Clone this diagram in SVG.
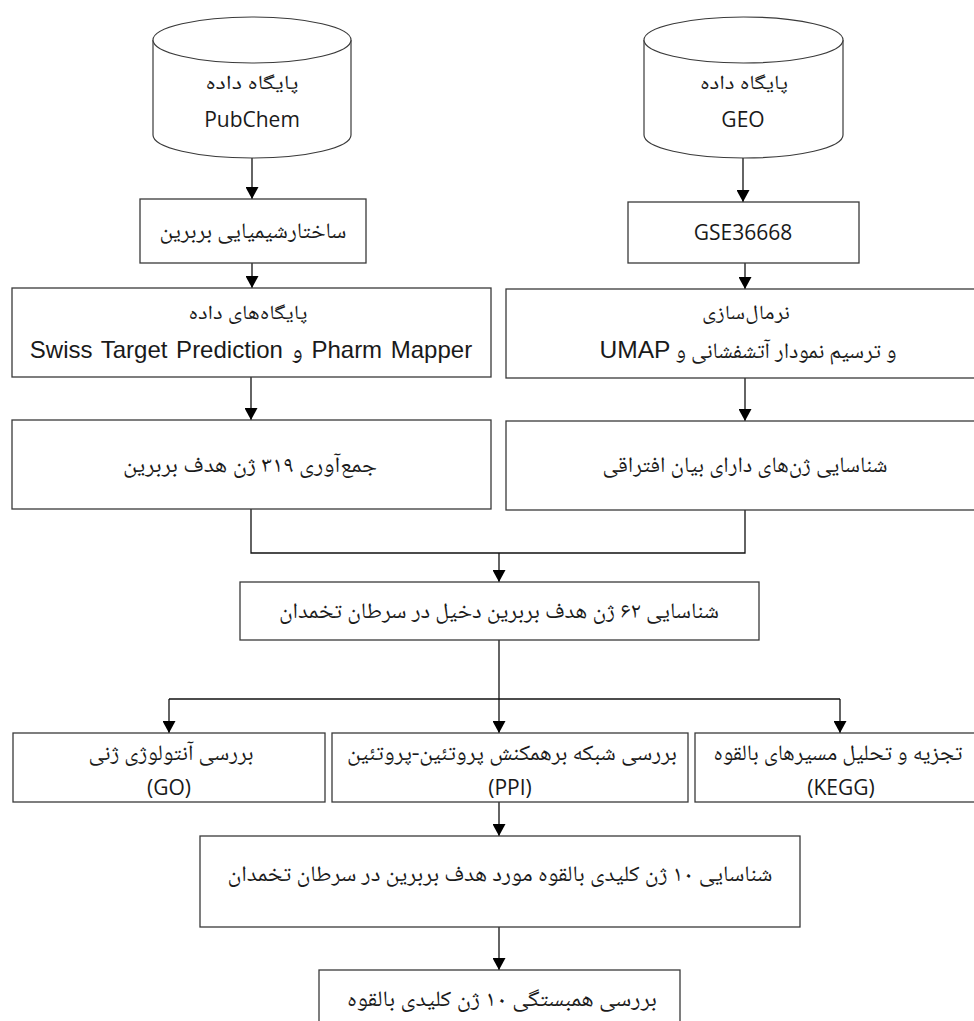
<svg xmlns="http://www.w3.org/2000/svg" width="974" height="1021" viewBox="0 0 974 1021">
<style>
.bg{fill:#fff}
.box{fill:#fff;stroke:#3a3a3a;stroke-width:1.3}
.cyl{fill:#fff;stroke:#3a3a3a;stroke-width:1.2}
.fa{font-family:'Noto Naskh Arabic','Noto Sans Arabic','DejaVu Sans',sans-serif;font-size:22px;fill:#1a1a1a;direction:rtl}
.fs{font-size:20px}
.en{font-family:'Open Sans','Noto Sans',sans-serif;font-size:21px;fill:#1a1a1a}
.ar{font-family:'Liberation Sans','Noto Naskh Arabic','DejaVu Sans',sans-serif;font-size:24px;fill:#1a1a1a;direction:rtl}
.ln{fill:none;stroke:#111;stroke-width:1.3}
</style>
<defs>
<marker id="ah" markerWidth="12" markerHeight="13" refX="12" refY="6.5" orient="auto" markerUnits="userSpaceOnUse">
<path d="M0,0 L12,6.5 L0,13 Z" fill="#000"/>
</marker>
</defs>
<rect class="bg" x="0" y="0" width="974" height="1021"/>

<g id="connectors">
<path class="ln" d="M252,158 L252,199" marker-end="url(#ah)"/>
<path class="ln" d="M743,158 L743,202" marker-end="url(#ah)"/>
<path class="ln" d="M252,263 L252,288" marker-end="url(#ah)"/>
<path class="ln" d="M745,263 L745,289" marker-end="url(#ah)"/>
<path class="ln" d="M251,377 L251,420" marker-end="url(#ah)"/>
<path class="ln" d="M745,378 L745,421" marker-end="url(#ah)"/>
<path class="ln" d="M251,509 L251,553 L745,553 L745,510"/>
<path class="ln" d="M499,553 L499,582" marker-end="url(#ah)"/>
<path class="ln" d="M499,640 L499,733" marker-end="url(#ah)"/>
<path class="ln" d="M169,699 L840,699"/>
<path class="ln" d="M169,699 L169,733" marker-end="url(#ah)"/>
<path class="ln" d="M840,699 L840,733" marker-end="url(#ah)"/>
<path class="ln" d="M499,802 L499,836" marker-end="url(#ah)"/>
<path class="ln" d="M499,927 L499,970" marker-end="url(#ah)"/>
</g>

<g id="pubchem">
<path class="cyl" d="M153,40 L153,135 A99,23 0 0 0 351,135 L351,40"/>
<ellipse class="cyl" cx="252" cy="40" rx="99" ry="23"/>
<text class="fa fs" x="252" y="89" text-anchor="middle" textLength="93" lengthAdjust="spacingAndGlyphs">پایگاه داده</text>
<text class="en" x="252" y="127" text-anchor="middle">PubChem</text>
</g>

<g id="geo">
<path class="cyl" d="M644,40 L644,135 A99.5,23 0 0 0 843,135 L843,40"/>
<ellipse class="cyl" cx="743.5" cy="40" rx="99.5" ry="23"/>
<text class="fa fs" x="744" y="89" text-anchor="middle" textLength="88" lengthAdjust="spacingAndGlyphs">پایگاه داده</text>
<text class="en" x="743" y="127" text-anchor="middle">GEO</text>
</g>

<g id="structure">
<rect class="box" x="140" y="199" width="226" height="64"/>
<text class="fa" x="253" y="238" text-anchor="middle" textLength="187" lengthAdjust="spacingAndGlyphs">ساختارشیمیایی بربرین</text>
</g>

<g id="gse">
<rect class="box" x="628" y="202" width="231" height="61"/>
<text class="en" x="743" y="240" text-anchor="middle" font-size="22">GSE36668</text>
</g>

<g id="databases">
<rect class="box" x="12" y="288" width="479" height="89"/>
<text class="fa fs" x="248" y="319" text-anchor="middle" textLength="119" lengthAdjust="spacingAndGlyphs">پایگاه‌های داده</text>
<text class="ar" x="251" y="358" text-anchor="middle" word-spacing="2">Pharm Mapper و Swiss Target Prediction</text>
</g>

<g id="normalization">
<rect class="box" x="506" y="289" width="479" height="89"/>
<text class="fa fs" x="746" y="319" text-anchor="middle" textLength="88" lengthAdjust="spacingAndGlyphs">نرمال‌سازی</text>
<text class="ar" x="748" y="358" text-anchor="middle" textLength="297" lengthAdjust="spacingAndGlyphs"><tspan class="fa" font-size="22">و ترسیم نمودار آتشفشانی و </tspan>UMAP</text>
</g>

<g id="collect">
<rect class="box" x="12" y="420" width="479" height="89"/>
<text class="fa" x="250" y="472" text-anchor="middle" textLength="254" lengthAdjust="spacingAndGlyphs">جمع‌آوری ۳۱۹ ژن هدف بربرین</text>
</g>

<g id="deg">
<rect class="box" x="506" y="421" width="479" height="89"/>
<text class="fa" x="745" y="472" text-anchor="middle" textLength="285" lengthAdjust="spacingAndGlyphs">شناسایی ژن‌های دارای بیان افتراقی</text>
</g>

<g id="common">
<rect class="box" x="240" y="582" width="519" height="58"/>
<text class="fa" x="499" y="618" text-anchor="middle" textLength="440" lengthAdjust="spacingAndGlyphs">شناسایی ۶۲ ژن هدف بربرین دخیل در سرطان تخمدان</text>
</g>

<g id="go">
<rect class="box" x="13" y="733" width="312" height="69"/>
<text class="fa" x="171" y="760" text-anchor="middle" textLength="165" lengthAdjust="spacingAndGlyphs">بررسی آنتولوژی ژنی</text>
<text class="en" x="169" y="795" text-anchor="middle" font-size="22">(GO)</text>
</g>

<g id="ppi">
<rect class="box" x="332" y="733" width="356" height="69"/>
<text class="fa" x="512" y="760" text-anchor="middle" textLength="330" lengthAdjust="spacingAndGlyphs">بررسی شبکه برهمکنش پروتئین-پروتئین</text>
<text class="en" x="510" y="795" text-anchor="middle" font-size="22">(PPI)</text>
</g>

<g id="kegg">
<rect class="box" x="695" y="733" width="290" height="69"/>
<text class="fa" x="838" y="760" text-anchor="middle" textLength="249" lengthAdjust="spacingAndGlyphs">تجزیه و تحلیل مسیرهای بالقوه</text>
<text class="en" x="841" y="795" text-anchor="middle" font-size="22">(KEGG)</text>
</g>

<g id="hubgenes">
<rect class="box" x="200" y="836" width="600" height="91"/>
<text class="fa" x="500" y="881" text-anchor="middle" textLength="545" lengthAdjust="spacingAndGlyphs">شناسایی ۱۰ ژن کلیدی بالقوه مورد هدف بربرین در سرطان تخمدان</text>
</g>

<g id="correlation">
<rect class="box" x="319" y="970" width="361" height="70"/>
<text class="fa" x="502" y="1006" text-anchor="middle" textLength="310" lengthAdjust="spacingAndGlyphs">بررسی همبستگی ۱۰ ژن کلیدی بالقوه</text>
</g>
</svg>
